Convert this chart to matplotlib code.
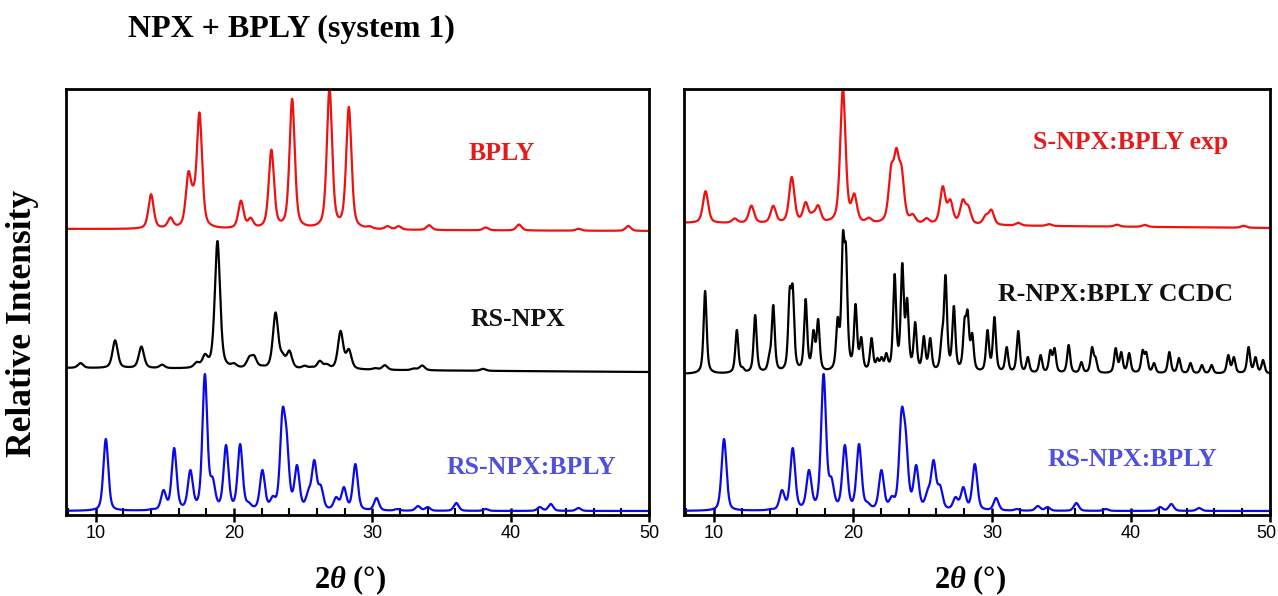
import numpy as np
import matplotlib
matplotlib.use("Agg")
import matplotlib.pyplot as plt
from matplotlib.ticker import MultipleLocator
from matplotlib.transforms import ScaledTranslation

# ---------------- data (peak lists: 2theta, apparent height) ----------------
# Left panel
bply_pos = [14.0, 15.4, 16.7, 17.05, 17.5, 20.5, 21.2, 22.7, 24.2, 26.9, 28.3,
            29.8, 31.1, 31.9, 34.1, 38.2, 40.6, 44.9, 48.5]
bply_h = [35, 12, 58, 44, 117, 29, 12, 80, 131, 142, 123,
          4, 4, 4, 5, 3, 6, 2, 5]

rsnpx_pos = [8.9, 11.4, 13.3, 14.8, 17.3, 17.9, 18.8, 20.0, 21.1, 21.45, 22.0,
             23.0, 23.5, 24.0, 25.1, 25.6, 26.2, 26.7, 27.7, 28.3, 30.2, 30.9,
             33.0, 33.6, 38.0]
rsnpx_h = [5, 28, 22, 4, 7, 15, 128, 6, 13, 14, 4,
           57, 17, 19, 4, 3, 9, 6, 39, 21, 2, 5,
           2, 5, 2]

# RS-NPX:BPLY (shown in both panels)
co_pos = [10.73, 14.06, 14.9, 15.67, 16.84, 17.89, 18.45, 19.42, 20.44, 21.05,
          22.05, 22.8, 23.5, 23.8, 24.55, 25.38, 25.8, 26.27, 27.38, 27.94,
          28.77, 30.3, 31.8, 33.3, 34.0, 36.07, 38.2, 42.1, 42.9, 44.9]
co_h = [72, 2, 21, 63, 41, 137, 34, 66, 67, 9,
        41, 15, 102, 81, 46, 22, 51, 26, 14, 24,
        47, 13, 2, 5, 4, 8, 2, 4, 7, 3]

# Right panel
snpx_pos = [9.4, 11.5, 12.7, 14.27, 15.6, 16.6, 17.1, 17.5, 19.28, 20.1, 21.15,
            22.75, 23.13, 23.5, 24.3, 25.3, 26.46, 27.0, 27.9, 28.3, 29.55,
            29.96, 31.9, 34.1, 39.0, 41.0, 48.1]
snpx_h = [32, 5, 18, 18, 47, 22, 12, 19, 136, 31, 7,
          60, 77, 59, 11, 7, 39, 26, 26, 20, 11,
          16, 3, 2, 2, 2, 2]

ccdc_pos = [9.37, 11.65, 12.06, 12.97, 13.99, 14.27, 15.45, 15.67, 16.6, 17.16,
            17.5, 18.9, 19.28, 19.5, 20.19, 20.6, 21.34, 21.76, 22.06, 22.4,
            23.0, 23.55, 23.9, 24.48, 25.1, 25.56, 26.4, 26.66, 27.26, 28.03,
            28.25, 28.58, 29.68, 30.18, 31.06, 31.89, 32.58, 33.5, 34.2, 34.5,
            35.52, 36.43, 37.2, 37.45, 38.9, 39.3, 39.87, 40.84, 41.1, 41.66,
            42.76, 43.45, 44.28, 45.1, 45.8, 47.0, 47.4, 48.46, 48.96, 49.5]
ccdc_h = [83, 44, 7, 59, 21, 69, 86, 89, 75, 44,
          55, 57, 142, 129, 70, 37, 36, 16, 17, 21,
          100, 111, 76, 52, 38, 36, 42, 99, 68, 56,
          64, 41, 44, 57, 27, 43, 17, 19, 24, 26,
          29, 12, 27, 17, 26, 22, 21, 24, 22, 11,
          22, 16, 11, 9, 9, 19, 17, 27, 17, 14]

# baseline offsets (start, end) and labels
left_series = [
    ("BPLY", bply_pos, bply_h, (286, 284)),
    ("RS-NPX", rsnpx_pos, rsnpx_h, (147, 143)),
    ("RS-NPX:BPLY", co_pos, co_h, (4, 4)),
]
right_series = [
    ("S-NPX:BPLY exp", snpx_pos, snpx_h, (292, 287)),
    ("R-NPX:BPLY CCDC", ccdc_pos, ccdc_h, (141, 141)),
    ("RS-NPX:BPLY", co_pos, co_h, (4, 4)),
]

x_ticks = [10, 20, 30, 40, 50]

# ---------------- styling ----------------
plt.rcParams['mathtext.fontset'] = 'custom'
plt.rcParams['mathtext.rm'] = 'Liberation Serif:bold'
plt.rcParams['mathtext.it'] = 'Liberation Serif:bold:italic'
plt.rcParams['mathtext.bf'] = 'Liberation Serif:bold'

LINE_COLORS = ['#f01010', '#000000', '#0a0ae6']
LABEL_COLORS = ['#e51b1b', '#111111', '#4f4fe0']

x = np.linspace(7.85, 50, 6000)


def shape(center, w, eta, xs):
    g = np.exp(-4 * np.log(2) * ((xs - center) / w) ** 2)
    l = 1.0 / (1.0 + 4 * ((xs - center) / w) ** 2)
    return eta * l + (1 - eta) * g


def pattern(pos, h, w, eta):
    pos = np.asarray(pos, float)
    h = np.asarray(h, float)
    # amplitudes so that the summed curve reaches the read heights at the peak positions
    M = np.array([[shape(pj, w, eta, pi) for pj in pos] for pi in pos])
    a = h.copy()
    for _ in range(400):
        for i in range(len(pos)):
            r = h[i] - (M[i] @ a - M[i, i] * a[i])
            a[i] = max(r, 0.0)
    y = np.zeros_like(x)
    for p, amp in zip(pos, a):
        y += amp * shape(p, w, eta, x)
    return y


fig = plt.figure(figsize=(12.78, 5.96), dpi=100)
ax_l = fig.add_axes([66 / 1278, (596 - 515) / 596, 583 / 1278, 426 / 596])
ax_r = fig.add_axes([684 / 1278, (596 - 515) / 596, 586 / 1278, 426 / 596])

label_xy_l = [(502, 153), (518, 320), (531, 467)]
label_xy_r = [(1131, 142), (1116, 295), (1132, 459)]
xlabel_x = [350, 970]

for k, (ax, series, label_xy) in enumerate([(ax_l, left_series, label_xy_l),
                                            (ax_r, right_series, label_xy_r)]):
    for i, (name, pos, h, (b0, b1)) in enumerate(series):
        if name.endswith("CCDC"):
            w, eta = 0.26, 0.6
        elif name == "RS-NPX:BPLY":
            w, eta = 0.42, 0.4
        else:
            w, eta = 0.45, 0.5
        base = b0 + (b1 - b0) * (x - x[0]) / (x[-1] - x[0])
        ax.plot(x, base + pattern(pos, h, w, eta), color=LINE_COLORS[i], lw=1.6)
        px, py = label_xy[i]
        fig.text(px / 1278, 1 - py / 596, name, color=LABEL_COLORS[i],
                 fontsize=18.5, fontweight='bold', family='Liberation Serif',
                 ha='center', va='center')
    ax.set_xlim(7.85, 50)
    ax.set_ylim(0, 426)
    ax.set_yticks([])
    ax.set_xticks(x_ticks)
    ax.xaxis.set_minor_locator(MultipleLocator(2))
    ax.tick_params(axis='x', which='major', direction='inout', length=10, width=1.8,
                   labelsize=13, pad=2)
    ax.tick_params(axis='x', which='minor', direction='in', length=5, width=1.5)
    for lbl in ax.get_xticklabels():
        lbl.set_family('Liberation Sans')
    for sp in ax.spines.values():
        sp.set_linewidth(2.0)
    fig.text(xlabel_x[k] / 1278, 1 - 580 / 596, r'2$\mathit{\theta}$ (°)',
             fontsize=22, fontweight='bold', family='Liberation Serif',
             ha='center', va='center')

# keep the right-most "50" inside the canvas
last = ax_r.get_xticklabels()[-1]
last.set_transform(last.get_transform() + ScaledTranslation(-4 / 100, 0, fig.dpi_scale_trans))

fig.text(128 / 1278, 1 - 29 / 596, "NPX + BPLY (system 1)", fontsize=23,
         fontweight='bold', family='Liberation Serif', ha='left', va='center')
fig.text(23 / 1278, 1 - 323 / 596, "Relative Intensity", fontsize=25.5,
         fontweight='bold', family='Liberation Serif', ha='center', va='center',
         rotation=90)

fig.savefig("out.png", dpi=100)
